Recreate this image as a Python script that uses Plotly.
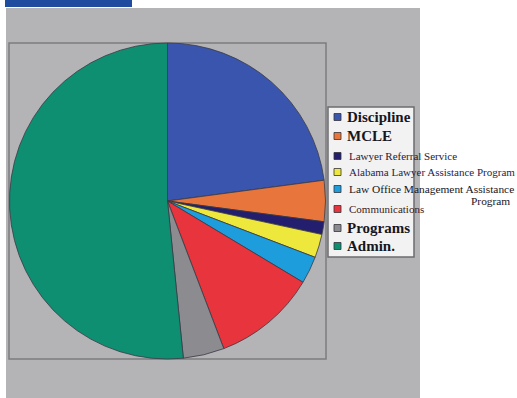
import plotly.graph_objects as go

W, H = 517, 398

# Share of budget by department (percent)
categories = [
    "Discipline",
    "MCLE",
    "Lawyer Referral Service",
    "Alabama Lawyer Assistance Program",
    "Law Office Management Assistance",
    "Communications",
    "Programs",
    "Admin.",
]
shares = [22.9, 4.2, 1.3, 2.4, 2.8, 10.6, 4.2, 51.6]
colors = ["#3a55ad", "#e8763c", "#231f6e", "#eee83c", "#1d9ddb",
          "#e8343c", "#8c8b90", "#0f8f72"]
big_label = [True, True, False, False, False, False, True, True]
label_sizes = [15, 15, 11, 11, 11.4, 11, 15, 15]
label_colors = ["#16161e", "#16161e", "#1c1c3a", "#262650", "#16161e",
                "#3a1a24", "#16161e", "#16161e"]
# vertical centre of each legend row, in pixels from the top
legend_rows = [117, 136, 156, 172, 189, 209, 228, 246]

SERIF = "Liberation Serif, DejaVu Serif, serif"


def to_paper(x, y):
    return x / W, 1 - y / H


def rect(x0, y0, x1, y1, **kw):
    return dict(type="rect", xref="paper", yref="paper",
                x0=x0 / W, x1=x1 / W, y0=1 - y1 / H, y1=1 - y0 / H, **kw)


fig = go.Figure(go.Pie(
    labels=categories,
    values=shares,
    sort=False,
    direction="clockwise",
    rotation=0,
    textinfo="none",
    hoverinfo="label+percent",
    marker=dict(colors=colors, line=dict(color="#3a3a44", width=0.8)),
    domain=dict(x=[9 / W, 326 / W], y=[1 - 359 / H, 1 - 43 / H]),
    showlegend=False,
))

shapes = [
    # grey backdrop panel
    rect(6, 8, 420, 398, fillcolor="#b4b4b6", line=dict(width=0), layer="below"),
    # header tab
    rect(5, 0, 132, 7, fillcolor="#1f4c9e", line=dict(width=0), layer="below"),
    # plot frame
    rect(9, 43, 326, 359, fillcolor="rgba(0,0,0,0)",
         line=dict(color="#7c7c80", width=1.5), layer="below"),
    # legend box
    rect(328, 107, 414, 257, fillcolor="#f2f2f2",
         line=dict(color="#6c6c70", width=1.5), layer="below"),
]

annotations = []
for name, col, big, size, tcol, yc in zip(categories, colors, big_label,
                                          label_sizes, label_colors, legend_rows):
    shapes.append(rect(334, yc - 3.5, 341, yc + 3.5, fillcolor=col,
                       line=dict(color="#33333a", width=0.8)))
    xp, yp = to_paper(345 if big else 347, yc)
    txt = f"<b>{name}</b>" if big else name
    annotations.append(dict(
        x=xp, y=yp, xref="paper", yref="paper", text=txt, showarrow=False,
        xanchor="left", yanchor="middle",
        font=dict(family=SERIF, size=size, color=tcol),
    ))

# continuation line of the wrapped "Law Office Management Assistance Program"
xp, yp = to_paper(512, legend_rows[4] + 12)
annotations.append(dict(
    x=xp, y=yp, xref="paper", yref="paper", text="Program", showarrow=False,
    xanchor="right", yanchor="middle",
    font=dict(family=SERIF, size=11.4, color="#16161e"),
))

fig.update_layout(
    width=W, height=H,
    margin=dict(l=0, r=0, t=0, b=0),
    paper_bgcolor="white",
    plot_bgcolor="white",
    shapes=shapes,
    annotations=annotations,
    showlegend=False,
)

fig.write_html("out.html")
